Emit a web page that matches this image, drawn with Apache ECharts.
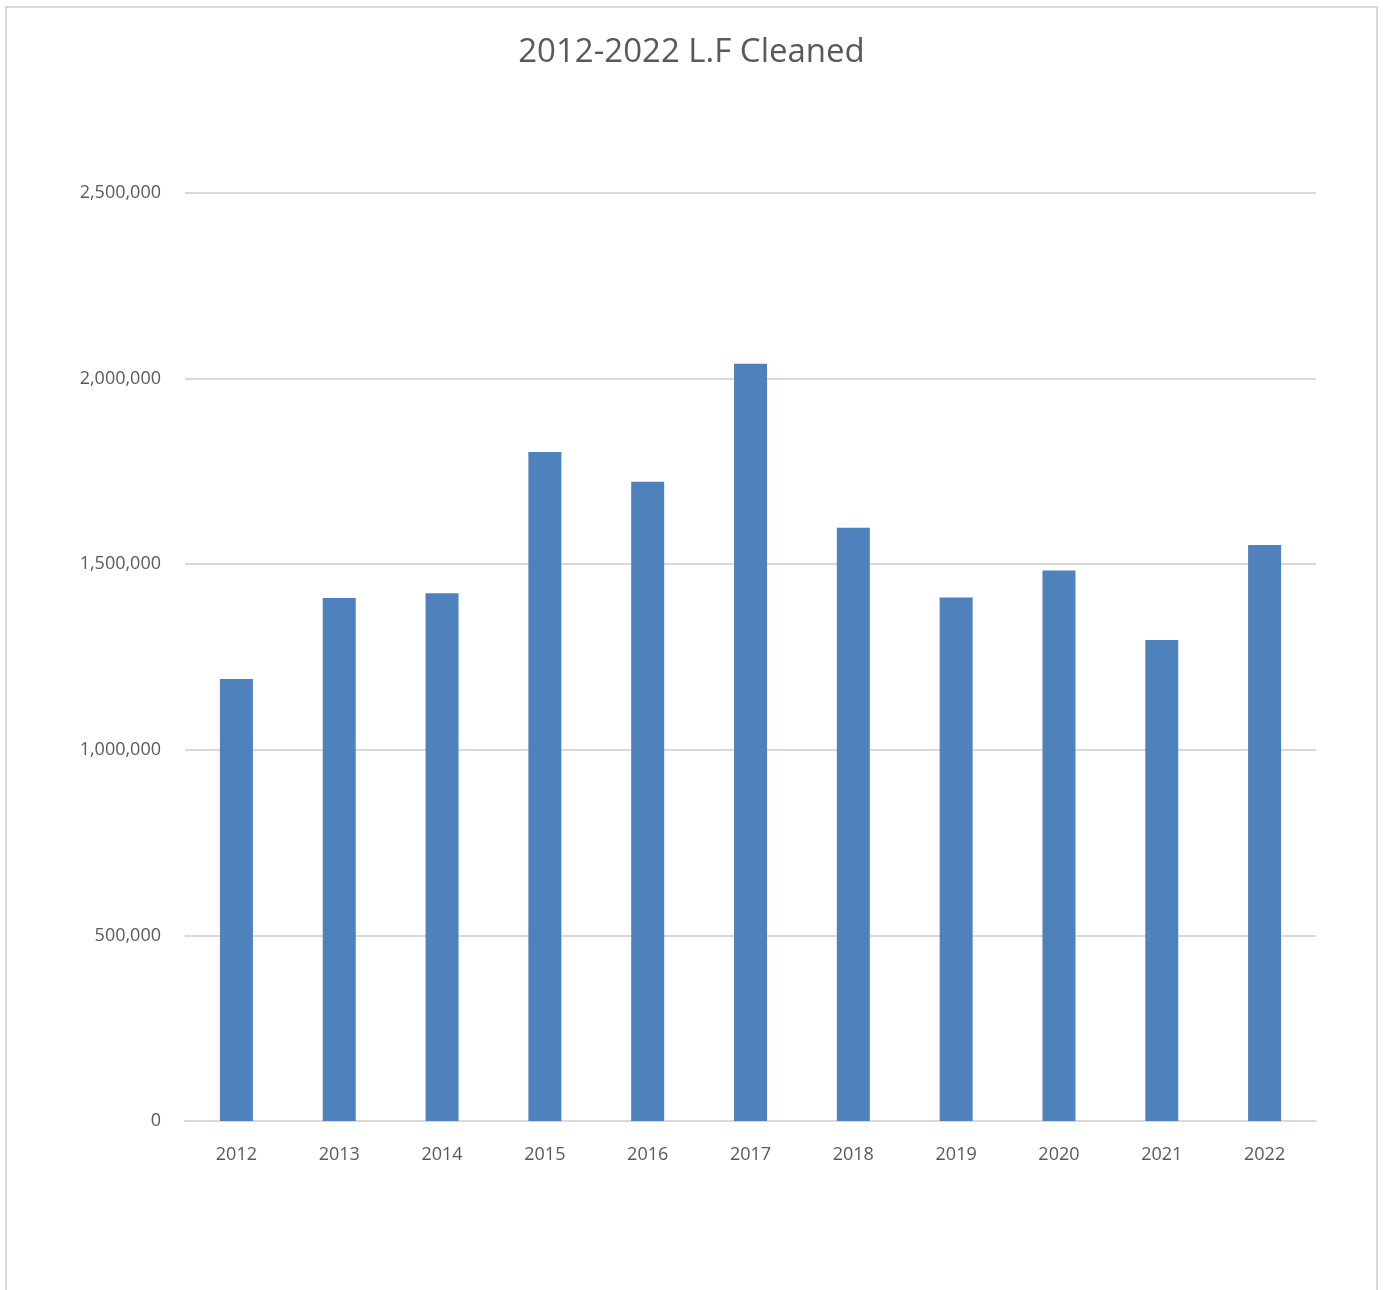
<!DOCTYPE html>
<html>
<head>
<meta charset="utf-8">
<script src="https://cdn.jsdelivr.net/npm/echarts@6/dist/echarts.min.js"></script>
<style>
html,body{margin:0;padding:0;background:#fff;}
#frame{position:absolute;left:5px;top:6px;width:1373px;height:1310px;border:2px solid #d9d9d9;box-sizing:border-box;}
#chart{position:absolute;left:0;top:0;width:1383px;height:1290px;}
</style>
</head>
<body>
<div id="frame"></div>
<div id="chart"></div>
<script>
const titleText = "2012-2022 L.F Cleaned";
const categories = ["2012","2013","2014","2015","2016","2017","2018","2019","2020","2021","2022"];
const values = [1191000, 1409000, 1422000, 1802000, 1722000, 2040000, 1598000, 1410000, 1483000, 1296000, 1552000];
const yTicks = [0, 500000, 1000000, 1500000, 2000000, 2500000];

const chart = echarts.init(document.getElementById('chart'), null, {renderer:'canvas'});
chart.setOption({
  backgroundColor: 'transparent',
  animation: false,
  title: {
    text: titleText,
    left: 'center',
    top: 31,
    textStyle: {fontFamily: 'Open Sans', fontSize: 33, fontWeight: 'normal', color: '#595959'}
  },
  grid: {left: 185, right: 67, top: 193, bottom: 169, containLabel: false},
  xAxis: {
    type: 'category',
    data: categories,
    axisLine: {show: true, lineStyle: {color: '#d9d9d9', width: 2}},
    axisTick: {show: false},
    axisLabel: {fontFamily: 'Open Sans', fontSize: 18, color: '#595959', margin: 25}
  },
  yAxis: {
    type: 'value',
    min: yTicks[0],
    max: yTicks[yTicks.length - 1],
    interval: yTicks[1] - yTicks[0],
    axisLine: {show: false},
    axisTick: {show: false},
    splitLine: {lineStyle: {color: '#d9d9d9', width: 2}},
    axisLabel: {
      fontFamily: 'Open Sans', fontSize: 18, color: '#595959', margin: 24,
      formatter: v => v.toLocaleString('en-US')
    }
  },
  series: [{
    type: 'bar',
    data: values,
    barWidth: 33,
    itemStyle: {color: '#4f81bd'}
  }]
});
</script>
</body>
</html>
